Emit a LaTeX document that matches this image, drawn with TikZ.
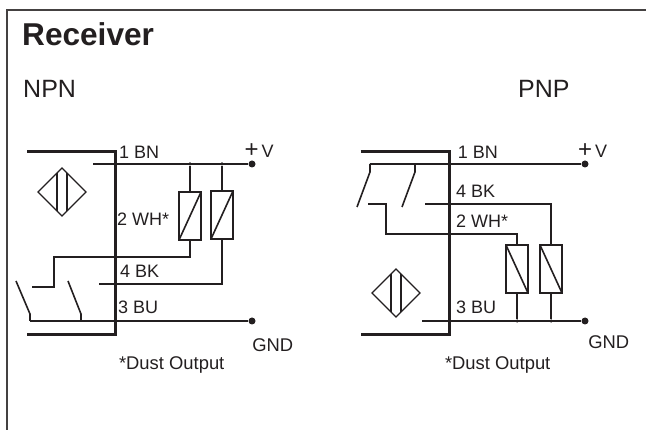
\documentclass[tikz,border=0pt]{standalone}
\usepackage{fontspec}
\setmainfont{Liberation Sans}
\usetikzlibrary{shapes.geometric}
\definecolor{ink}{HTML}{231F20}
\tikzset{
	wire/.style={draw=ink,line width=1.6pt},
	heavy/.style={draw=ink,line width=2.4pt},
	frameline/.style={draw=ink!85,line width=1.6pt},
	coil/.style={rectangle,draw=ink,line width=1.6pt,minimum width=22pt,minimum height=48pt,inner sep=0pt,outer sep=0pt},
	sensor/.style={diamond,draw=ink,line width=1.4pt,minimum width=48pt,minimum height=48pt,aspect=1,inner sep=0pt,outer sep=0pt},
	dot/.style={circle,fill=ink,minimum size=7pt,inner sep=0pt},
	joint/.style={circle,fill=ink,minimum size=3.5pt,inner sep=0pt},
	lab/.style={anchor=base west,inner sep=0pt,text=ink,font=\fontsize{18}{20}\selectfont},
	note/.style={anchor=base,inner sep=0pt,text=ink,font=\fontsize{18.4}{20}\selectfont},
	head/.style={anchor=base west,inner sep=0pt,text=ink,font=\fontsize{25}{28}\selectfont}
}
\begin{document}
\begin{tikzpicture}[x=1pt,y=-1pt]
	\useasboundingbox (0,0) rectangle (646,430);
	\coordinate (fb) at (7,430);
	\coordinate (ft) at (7,10);
	\coordinate (fr) at (646,10);
	\draw[frameline] (fb) -- (ft) -- (fr);
	\node[head,font=\bfseries\fontsize{31.6}{34}\selectfont] (title) at (22,46) {Receiver};
	\node[head] (npn) at (23,97.7) {NPN};
	\node[head] (pnp) at (518,97.7) {PNP};

	% NPN
	\coordinate (a1) at (27,151.5);
	\coordinate (a2) at (115.5,151.5);
	\coordinate (a3) at (115.5,334.5);
	\coordinate (a4) at (27,334.5);
	\draw[heavy] (a1) -- (a2) -- (a3) -- (a4);
	\node[sensor] (sa) at (62,192) {};
	\foreach \dx in {-5,5}
		\draw[wire] ([shift={(\dx,-19)}]sa.center) -- ([shift={(\dx,19)}]sa.center);
	\node[dot] (va) at (252,164) {};
	\node[dot] (ga) at (252,321) {};
	\coordinate (vs) at (93,164);
	\draw[wire] (vs) -- (va);
	\node[coil] (ra) at (190,216) {};
	\node[coil] (rb) at (222,215) {};
	\node[joint] (ja) at (ra.north |- va) {};
	\node[joint] (jb) at (rb.north |- va) {};
	\draw[wire] (ja) -- (ra.north);
	\draw[wire] (jb) -- (rb.north);
	\draw[wire] (ra.south west) -- (ra.north east);
	\draw[wire] (rb.south west) -- (rb.north east);
	\coordinate (w1) at (54,257);
	\coordinate (w2) at (54,287);
	\coordinate (w3) at (32,287);
	\coordinate (w4) at (99,284);
	\draw[wire] (ra.south) |- (w1) -- (w2) -- (w3);
	\draw[wire] (rb.south) |- (w4);
	\coordinate (k1) at (16,281);
	\coordinate (k2) at (30,314);
	\coordinate (k3) at (30,321);
	\coordinate (k4) at (68,281);
	\coordinate (k5) at (81,314);
	\coordinate (k6) at (81,321);
	\draw[wire] (k1) -- (k2) -- (k3);
	\draw[wire] (k4) -- (k5) -- (k6);
	\draw[wire] (k3) -- (ga);
	\node[lab] (l1) at (119,158.3) {1 BN};
	\node[lab] (l2) at (117,226) {2 WH*};
	\node[lab] (l3) at (120,278) {4 BK};
	\node[lab] (l4) at (118,313.7) {3 BU};
	\node[lab] (lv) at (244.5,157.7) {{\fontsize{24}{24}\selectfont +}\kern3pt V};
	\node[note] (lg) at (272.7,351.7) {GND};
	\node[note] (ld) at (171.7,369.3) {*Dust Output};

	% PNP
	\coordinate (b1) at (360.7,151.5);
	\coordinate (b2) at (449.5,151.5);
	\coordinate (b3) at (449.5,334.5);
	\coordinate (b4) at (360.7,334.5);
	\draw[heavy] (b1) -- (b2) -- (b3) -- (b4);
	\node[sensor] (sb) at (396,293) {};
	\foreach \dx in {-5,5}
		\draw[wire] ([shift={(\dx,-19)}]sb.center) -- ([shift={(\dx,19)}]sb.center);
	\node[dot] (vb) at (585,164) {};
	\node[dot] (gb) at (585,321) {};
	\coordinate (m1) at (370,164);
	\coordinate (m2) at (370,172);
	\coordinate (m3) at (357,207);
	\coordinate (m4) at (415,164);
	\coordinate (m5) at (415,172);
	\coordinate (m6) at (402,207);
	\draw[wire] (m1) -- (vb);
	\draw[wire] (m1) -- (m2) -- (m3);
	\draw[wire] (m4) -- (m5) -- (m6);
	\node[coil] (rc) at (517,269) {};
	\node[coil] (rd) at (551,269) {};
	\draw[wire] (rc.north west) -- (rc.south east);
	\draw[wire] (rd.north west) -- (rd.south east);
	\coordinate (n1) at (368,204);
	\coordinate (n2) at (386,204);
	\coordinate (n3) at (386,234);
	\coordinate (n4) at (425,204);
	\coordinate (n5) at (422,321);
	\draw[wire] (n1) -- (n2) -- (n3) -| (rc.north);
	\draw[wire] (n4) -| (rd.north);
	\draw[wire] (n5) -- (gb);
	\node[joint] (jc) at (rc.south |- gb) {};
	\node[joint] (jd) at (rd.south |- gb) {};
	\draw[wire] (rc.south) -- (jc);
	\draw[wire] (rd.south) -- (jd);
	\node[lab] (p1) at (457.7,158.3) {1 BN};
	\node[lab] (p2) at (456,197.7) {4 BK};
	\node[lab] (p3) at (456,227.7) {2 WH*};
	\node[lab] (p4) at (456,313.7) {3 BU};
	\node[lab] (pv) at (578,157.7) {{\fontsize{24}{24}\selectfont +}\kern3pt V};
	\node[note] (pg) at (608.7,348.7) {GND};
	\node[note] (pd) at (497.7,369.3) {*Dust Output};
\end{tikzpicture}
\end{document}
